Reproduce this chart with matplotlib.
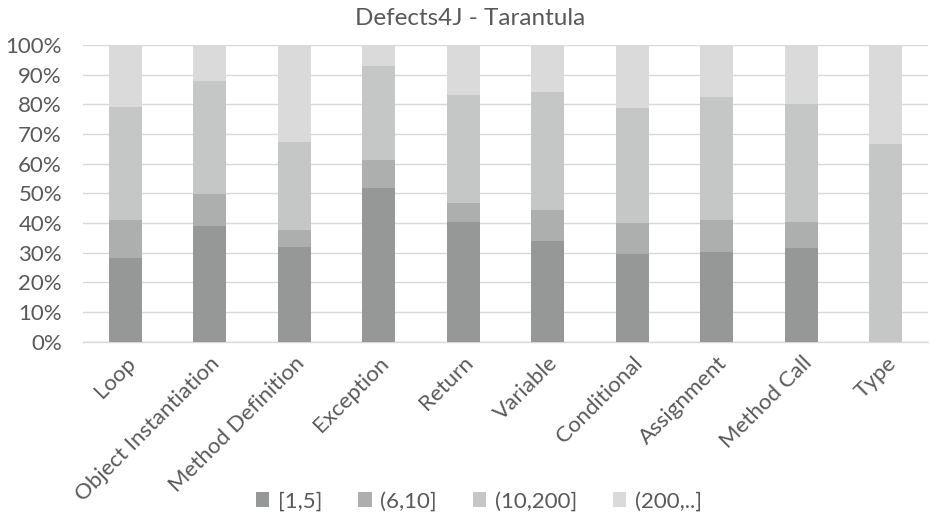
import matplotlib
matplotlib.use("Agg")
import matplotlib.pyplot as plt
import numpy as np

categories = ["Loop", "Object Instantiation", "Method Definition", "Exception",
              "Return", "Variable", "Conditional", "Assignment", "Method Call", "Type"]
series_names = ["[1,5]", "(6,10]", "(10,200]", "(200,..]"]
# shares per category, in percent
s_1_5 = [28.1, 39.1, 32.1, 52.0, 40.4, 33.9, 29.6, 30.2, 31.5, 0.0]
s_6_10 = [13.1, 10.7, 5.7, 9.2, 6.3, 10.5, 10.4, 10.9, 9.0, 0.0]
s_10_200 = [37.8, 38.1, 29.5, 31.8, 36.6, 39.7, 38.9, 41.4, 39.6, 66.7]
s_200_up = [21.0, 12.1, 32.7, 7.0, 16.7, 15.9, 21.1, 17.5, 19.9, 33.3]
yticks = [0, 10, 20, 30, 40, 50, 60, 70, 80, 90, 100]

colors = ["#969797", "#adaeae", "#c5c6c6", "#dadada"]
text_color = "#595959"
plt.rcParams["font.family"] = ["Lato", "DejaVu Sans"]

fig = plt.figure(figsize=(9.3, 5.25), dpi=100)
ax = fig.add_axes([0.089, 0.349, 0.909, 0.565])

x = np.arange(len(categories))
bottom = np.zeros(len(categories))
for name, vals, c in zip(series_names, [s_1_5, s_6_10, s_10_200, s_200_up], colors):
    vals = np.array(vals)
    ax.bar(x, vals, width=0.39, bottom=bottom, color=c, label=name, zorder=3)
    bottom += vals

ax.set_xlim(-0.5, len(categories) - 0.5)
ax.set_ylim(0, 100)
ax.set_yticks(yticks)
ax.set_yticklabels([f"{t}%" for t in yticks], color=text_color, fontsize=16)
ax.yaxis.grid(True, color="#d9d9d9", linewidth=1.0, zorder=0)
ax.set_axisbelow(True)
ax.tick_params(axis="y", length=0, pad=15)
ax.tick_params(axis="x", length=0, pad=8)
for sp in ["top", "right", "left"]:
    ax.spines[sp].set_visible(False)
ax.spines["bottom"].set_color("#d9d9d9")
ax.spines["bottom"].set_linewidth(1.0)

ax.set_xticks(x)
ax.set_xticklabels(categories, rotation=45, ha="right", rotation_mode="anchor",
                   color=text_color, fontsize=16)

fig.text(0.505, 0.965, "Defects4J - Tarantula", color=text_color, fontsize=17.5,
         ha="center", va="center")

fig.legend(loc="lower center", bbox_to_anchor=(0.515, -0.012), ncol=4, frameon=False,
           fontsize=16, labelcolor=text_color, handlelength=0.6, handleheight=0.6,
           handletextpad=0.4, columnspacing=1.6)

fig.savefig("out.png", dpi=100)
